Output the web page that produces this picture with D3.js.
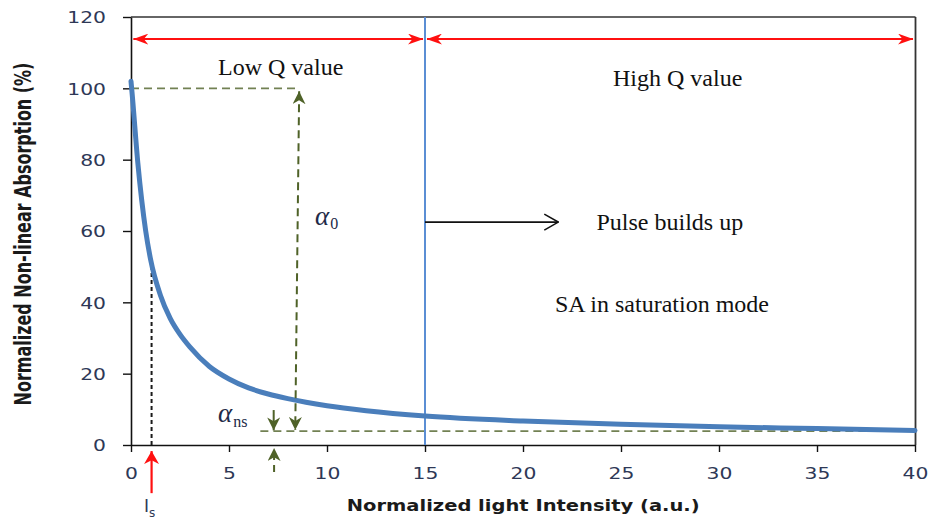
<!DOCTYPE html>
<html>
<head>
<meta charset="utf-8">
<script src="https://cdn.jsdelivr.net/npm/d3@7"></script>
<style>
  html, body { margin: 0; padding: 0; background: #fff; }
  svg { display: block; }
</style>
</head>
<body>
<svg id="chart" width="934" height="522"></svg>
<script>
// Saturable absorber response: absorption vs. normalized intensity
const intensity  = [0, 0.05, 0.35, 0.75, 1, 1.5, 2, 2.5, 3, 4, 5, 6, 7, 8, 10, 12, 15, 20, 25, 30, 35, 40];
const absorption = [102, 99, 79, 60, 52, 42, 35.5, 31, 27.5, 22, 18.5, 16, 14.3, 13, 11, 9.6, 8.1, 6.7, 5.8, 5.1, 4.6, 4.1];

const xTicks = [0, 5, 10, 15, 20, 25, 30, 35, 40];
const yTicks = [0, 20, 40, 60, 80, 100, 120];

// Annotation levels (data units)
const satIntensity = 1.05;   // I_s
const qBoundary = 15;        // switch from low to high Q
const alphaTop = 100;        // unsaturated level
const alphaNs = 3.9;         // non-saturable level
const regionArrowLevel = 113.8;

const svg = d3.select("#chart");
const x = d3.scaleLinear().domain([0, 40]).range([131, 915]);
const y = d3.scaleLinear().domain([0, 120]).range([445, 17]);

const red = "#ff1010", olive = "#4f6228", curveBlue = "#4a7ebb";

// arrowhead markers
const defs = svg.append("defs");
function head(id, color, len, half) {
  defs.append("marker")
    .attr("id", id).attr("markerUnits", "userSpaceOnUse")
    .attr("viewBox", `0 0 ${len} ${half * 2}`)
    .attr("refX", len).attr("refY", half)
    .attr("markerWidth", len).attr("markerHeight", half * 2)
    .attr("orient", "auto-start-reverse")
    .append("path")
    .attr("d", `M0,0 L${len},${half} L0,${half * 2} L${len * 0.3},${half} Z`)
    .attr("fill", color);
}
head("redHead", red, 15, 5.5);
head("oliveHead", olive, 13, 6.5);
head("redUp", red, 13, 7.5);
defs.append("marker")
  .attr("id", "openHead").attr("markerUnits", "userSpaceOnUse")
  .attr("viewBox", "0 0 16 18").attr("refX", 15).attr("refY", 9)
  .attr("markerWidth", 16).attr("markerHeight", 18).attr("orient", "auto")
  .append("path").attr("d", "M1,1 L15,9 L1,17")
  .attr("fill", "none").attr("stroke", "#111").attr("stroke-width", 1.6);

// frame: top and right borders
svg.append("line").attr("x1", x(0)).attr("x2", x(40) + 0.5)
  .attr("y1", y(120)).attr("y2", y(120)).attr("stroke", "#333").attr("stroke-width", 1.6);
svg.append("line").attr("x1", x(40) + 0.5).attr("x2", x(40) + 0.5)
  .attr("y1", y(120)).attr("y2", y(0)).attr("stroke", "#333").attr("stroke-width", 1.8);

// axes
const sx = 1.27;
const gy = svg.append("g").attr("transform", `translate(${x(0)},0)`)
  .call(d3.axisLeft(y).tickValues(yTicks).tickSize(8).tickSizeOuter(0));
const gx = svg.append("g").attr("transform", `translate(0,${y(0)})`)
  .call(d3.axisBottom(x).tickValues(xTicks).tickSize(7).tickSizeOuter(0));
[gx, gy].forEach(g => {
  g.select(".domain").attr("stroke", "#111").attr("stroke-width", 1.6);
  g.selectAll(".tick line").attr("stroke", "#111").attr("stroke-width", 1.4);
  g.selectAll(".tick text")
    .attr("font-family", "DejaVu Sans").attr("font-size", 16)
    .attr("fill", "#2e3856");
});
gy.selectAll(".tick text").attr("x", -25 / sx).attr("dy", "0.36em")
  .attr("transform", `scale(${sx},1)`);
gx.selectAll(".tick text").attr("y", 34.5).attr("dy", 0)
  .attr("transform", `scale(${sx},1)`);

// axis titles
svg.append("text")
  .attr("transform", `translate(31,234) scale(1.45,1) rotate(-90)`)
  .attr("text-anchor", "middle")
  .attr("font-family", "DejaVu Sans").attr("font-weight", "bold").attr("font-size", 16)
  .attr("fill", "#1a1a1a")
  .text("Normalized Non-linear Absorption (%)");
svg.append("text")
  .attr("x", 346.7).attr("y", 510.5)
  .attr("textLength", 353).attr("lengthAdjust", "spacingAndGlyphs")
  .attr("font-family", "DejaVu Sans").attr("font-weight", "bold").attr("font-size", 15.5)
  .attr("fill", "#1a1a1a")
  .text("Normalized light Intensity (a.u.)");

// guide lines
const dashOlive = "8,5";
svg.append("line")
  .attr("x1", x(0)).attr("x2", x(8.6)).attr("y1", y(alphaTop)).attr("y2", y(alphaTop))
  .attr("stroke", olive).attr("stroke-opacity", 0.8).attr("stroke-width", 1.8)
  .attr("stroke-dasharray", dashOlive);
svg.append("line")
  .attr("x1", x(6.6)).attr("x2", x(40)).attr("y1", y(alphaNs)).attr("y2", y(alphaNs))
  .attr("stroke", olive).attr("stroke-opacity", 0.8).attr("stroke-width", 1.8)
  .attr("stroke-dasharray", dashOlive);
svg.append("line")
  .attr("x1", x(satIntensity)).attr("x2", x(satIntensity))
  .attr("y1", y(0)).attr("y2", y(53))
  .attr("stroke", "#1a1a1a").attr("stroke-width", 2).attr("stroke-dasharray", "4,3");

// high-Q boundary
svg.append("line")
  .attr("x1", x(qBoundary)).attr("x2", x(qBoundary)).attr("y1", y(120)).attr("y2", y(0))
  .attr("stroke", "#5b8ed4").attr("stroke-width", 2);

// absorption curve
const pts = intensity.map((d, i) => [d, absorption[i]]);
svg.append("path")
  .datum(pts)
  .attr("d", d3.line().x(d => x(d[0])).y(d => y(d[1])).curve(d3.curveMonotoneX))
  .attr("fill", "none").attr("stroke", curveBlue).attr("stroke-width", 5)
  .attr("stroke-linecap", "round");

// region arrows
svg.append("line")
  .attr("x1", x(0.12)).attr("x2", x(14.9)).attr("y1", y(regionArrowLevel)).attr("y2", y(regionArrowLevel))
  .attr("stroke", red).attr("stroke-width", 2)
  .attr("marker-start", "url(#redHead)").attr("marker-end", "url(#redHead)");
svg.append("line")
  .attr("x1", x(15.1)).attr("x2", x(39.9)).attr("y1", y(regionArrowLevel)).attr("y2", y(regionArrowLevel))
  .attr("stroke", red).attr("stroke-width", 2)
  .attr("marker-start", "url(#redHead)").attr("marker-end", "url(#redHead)");

// alpha_0 span
svg.append("line")
  .attr("x1", x(8.58)).attr("y1", y(99.2)).attr("x2", x(8.38)).attr("y2", y(4.2))
  .attr("stroke", olive).attr("stroke-width", 2).attr("stroke-dasharray", dashOlive)
  .attr("marker-start", "url(#oliveHead)").attr("marker-end", "url(#oliveHead)");
// alpha_ns arrows
svg.append("line")
  .attr("x1", x(7.28)).attr("x2", x(7.28)).attr("y1", y(9.8)).attr("y2", y(4.1))
  .attr("stroke", olive).attr("stroke-width", 2)
  .attr("marker-end", "url(#oliveHead)");
svg.append("line")
  .attr("x1", x(7.3)).attr("x2", x(7.3)).attr("y1", y(-7.6)).attr("y2", y(-0.85))
  .attr("stroke", olive).attr("stroke-width", 2).attr("stroke-dasharray", "7,5")
  .attr("marker-end", "url(#oliveHead)");

// I_s arrow
svg.append("line")
  .attr("x1", x(satIntensity)).attr("x2", x(satIntensity)).attr("y1", y(-13.5)).attr("y2", y(-1.7))
  .attr("stroke", red).attr("stroke-width", 2.2)
  .attr("marker-end", "url(#redUp)");

// pulse arrow
svg.append("line")
  .attr("x1", x(qBoundary)).attr("x2", x(21.8)).attr("y1", y(62.5)).attr("y2", y(62.5))
  .attr("stroke", "#111").attr("stroke-width", 1.6)
  .attr("marker-end", "url(#openHead)");

// serif annotations
const serif = (tx, ty, s) => svg.append("text").attr("x", tx).attr("y", ty)
  .attr("font-family", "Liberation Serif").attr("font-size", 24).attr("fill", "#111").text(s);
serif(218, 75, "Low Q value");
serif(613, 86, "High Q value");
serif(596.5, 230, "Pulse builds up");
serif(555, 312, "SA in saturation mode");

// greek labels
function greek(tx, ty, sub, subDy) {
  const t = svg.append("text").attr("x", tx).attr("y", ty)
    .attr("font-family", "Liberation Serif").attr("fill", "#222a48");
  t.append("tspan").attr("font-style", "italic").attr("font-size", 27).text("α");
  t.append("tspan").attr("font-size", 16).attr("dy", subDy).attr("dx", 1).text(sub);
}
greek(315, 225, "0", 4);
greek(218, 422, "ns", 5);

// I_s label
const isLabel = svg.append("text").attr("x", 144).attr("y", 512)
  .attr("font-family", "DejaVu Sans").attr("font-size", 17).attr("fill", "#2e3856");
isLabel.append("tspan").text("I");
isLabel.append("tspan").attr("font-size", 12).attr("dy", 5).text("s");
</script>
</body>
</html>
